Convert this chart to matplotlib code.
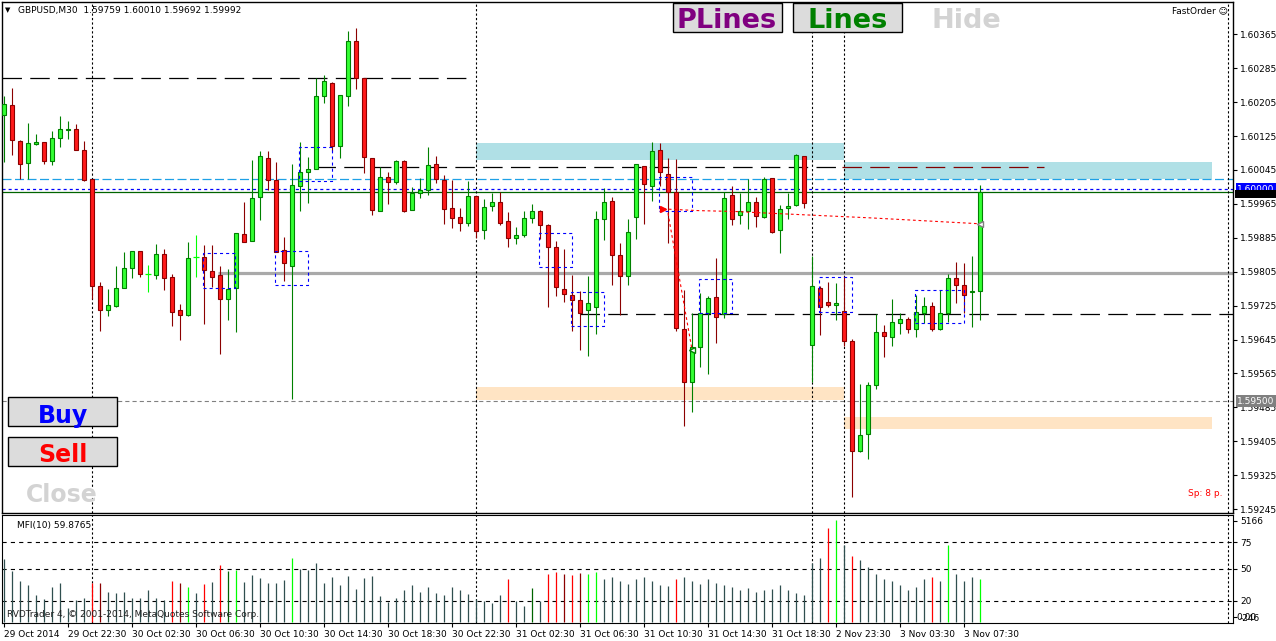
import matplotlib
matplotlib.use('Agg')
import matplotlib.pyplot as plt
from matplotlib.patches import Rectangle

plt.rcParams['font.family'] = 'DejaVu Sans'
plt.rcParams['lines.scale_dashes'] = False

# ---------------- data (GBPUSD M30) ----------------
opens = [1.60174, 1.60198, 1.60113, 1.60061, 1.60107, 1.60111, 1.60065, 1.60120, 1.60140, 1.60141,
         1.60092, 1.60023, 1.59771, 1.59714, 1.59725, 1.59766, 1.59813, 1.59853, 1.59799, 1.59797,
         1.59846, 1.59792, 1.59714, 1.59703, 1.59840, 1.59839, 1.59806, 1.59797, 1.59740, 1.59766,
         1.59894, 1.59877, 1.59981, 1.60073, 1.60021, 1.59856, 1.59818, 1.60007, 1.60040, 1.60047,
         1.60219, 1.60250, 1.60101, 1.60219, 1.60349, 1.60261, 1.60073, 1.59948, 1.60028, 1.60016,
         1.60066, 1.59950, 1.59990, 1.59997, 1.60059, 1.60021, 1.59955, 1.59934, 1.59920, 1.59983,
         1.59903, 1.59960, 1.59969, 1.59924, 1.59884, 1.59891, 1.59931, 1.59948, 1.59915, 1.59863,
         1.59764, 1.59750, 1.59738, 1.59714, 1.59722, 1.59929, 1.59971, 1.59844, 1.59795, 1.59934,
         1.60054, 1.60007, 1.60092, 1.60035, 1.59993, 1.59670, 1.59545, 1.59627, 1.59707, 1.59745,
         1.59705, 1.59986, 1.59938, 1.59948, 1.59969, 1.59934, 1.60026, 1.59903, 1.59955, 1.59962,
         1.60078, 1.59632, 1.59766, 1.59733, 1.59726, 1.59712, 1.59641, 1.59382, 1.59422, 1.59538,
         1.59663, 1.59651, 1.59684, 1.59693, 1.59670, 1.59707, 1.59724, 1.59670, 1.59707, 1.59790,
         1.59773, 1.59757, 1.59759]
highs = [1.60220, 1.60238, 1.60116, 1.60155, 1.60129, 1.60112, 1.60137, 1.60172, 1.60161, 1.60153,
         1.60114, 1.60023, 1.59780, 1.59765, 1.59819, 1.59851, 1.59853, 1.59853, 1.59820, 1.59870,
         1.59858, 1.59799, 1.59729, 1.59875, 1.59891, 1.59868, 1.59868, 1.59818, 1.59811, 1.59896,
         1.59970, 1.60069, 1.60090, 1.60090, 1.60063, 1.59887, 1.60059, 1.60111, 1.60076, 1.60261,
         1.60269, 1.60252, 1.60221, 1.60373, 1.60380, 1.60261, 1.60073, 1.60052, 1.60040, 1.60068,
         1.60068, 1.60004, 1.60026, 1.60100, 1.60078, 1.60033, 1.60021, 1.59955, 1.60019, 1.59983,
         1.59976, 1.59990, 1.59993, 1.59946, 1.59910, 1.59948, 1.59964, 1.59950, 1.59917, 1.59877,
         1.59858, 1.59797, 1.59759, 1.59795, 1.59948, 1.60002, 1.59981, 1.59872, 1.59929, 1.60059,
         1.60054, 1.60111, 1.60108, 1.60073, 1.60071, 1.59762, 1.59707, 1.59755, 1.59747, 1.59837,
         1.59993, 1.60007, 1.59990, 1.60023, 1.59981, 1.60028, 1.60026, 1.59962, 1.59990, 1.60082,
         1.60078, 1.59842, 1.59771, 1.59780, 1.59778, 1.59795, 1.59646, 1.59540, 1.59545, 1.59705,
         1.59679, 1.59740, 1.59707, 1.59698, 1.59750, 1.59745, 1.59733, 1.59762, 1.59799, 1.59828,
         1.59825, 1.59842, 1.60010]
lows = [1.60063, 1.60081, 1.60024, 1.60024, 1.60103, 1.60059, 1.60057, 1.60098, 1.60118, 1.60091,
        1.60020, 1.59740, 1.59664, 1.59700, 1.59721, 1.59766, 1.59789, 1.59792, 1.59758, 1.59787,
        1.59763, 1.59676, 1.59645, 1.59700, 1.59792, 1.59681, 1.59769, 1.59611, 1.59690, 1.59662,
        1.59875, 1.59877, 1.59926, 1.59997, 1.59851, 1.59784, 1.59506, 1.59947, 1.59968, 1.60047,
        1.60202, 1.60089, 1.60072, 1.60195, 1.60236, 1.60037, 1.59938, 1.59948, 1.59964, 1.60011,
        1.59945, 1.59950, 1.59979, 1.59985, 1.60014, 1.59917, 1.59909, 1.59900, 1.59913, 1.59884,
        1.59882, 1.59948, 1.59915, 1.59863, 1.59870, 1.59887, 1.59920, 1.59882, 1.59722, 1.59747,
        1.59733, 1.59665, 1.59620, 1.59606, 1.59658, 1.59880, 1.59773, 1.59703, 1.59773, 1.59882,
        1.59917, 1.59971, 1.60006, 1.59872, 1.59665, 1.59441, 1.59474, 1.59580, 1.59564, 1.59637,
        1.59696, 1.59915, 1.59917, 1.59905, 1.59910, 1.59931, 1.59896, 1.59849, 1.59929, 1.59960,
        1.59955, 1.59545, 1.59655, 1.59722, 1.59691, 1.59630, 1.59273, 1.59380, 1.59363, 1.59528,
        1.59604, 1.59630, 1.59658, 1.59660, 1.59651, 1.59684, 1.59665, 1.59667, 1.59686, 1.59731,
        1.59707, 1.59674, 1.59692]
closes = [1.60200, 1.60115, 1.60058, 1.60108, 1.60111, 1.60065, 1.60120, 1.60141, 1.60142, 1.60092,
          1.60021, 1.59771, 1.59714, 1.59726, 1.59766, 1.59813, 1.59853, 1.59799, 1.59799, 1.59846,
          1.59791, 1.59710, 1.59703, 1.59837, 1.59840, 1.59809, 1.59792, 1.59740, 1.59764, 1.59896,
          1.59875, 1.59979, 1.60078, 1.60021, 1.59851, 1.59825, 1.60009, 1.60040, 1.60047, 1.60219,
          1.60254, 1.60101, 1.60221, 1.60349, 1.60261, 1.60075, 1.59950, 1.60028, 1.60016, 1.60066,
          1.59948, 1.59990, 1.59997, 1.60056, 1.60023, 1.59953, 1.59931, 1.59920, 1.59983, 1.59901,
          1.59957, 1.59969, 1.59920, 1.59884, 1.59891, 1.59931, 1.59948, 1.59915, 1.59863, 1.59769,
          1.59752, 1.59738, 1.59707, 1.59731, 1.59929, 1.59969, 1.59844, 1.59795, 1.59898, 1.60059,
          1.60012, 1.60089, 1.60040, 1.59993, 1.59672, 1.59545, 1.59627, 1.59707, 1.59743, 1.59698,
          1.59979, 1.59929, 1.59948, 1.59969, 1.59936, 1.60023, 1.59898, 1.59953, 1.59960, 1.60080,
          1.59967, 1.59771, 1.59722, 1.59726, 1.59731, 1.59641, 1.59382, 1.59420, 1.59538, 1.59663,
          1.59653, 1.59686, 1.59693, 1.59670, 1.59710, 1.59724, 1.59670, 1.59707, 1.59790, 1.59773,
          1.59750, 1.59759, 1.59992]

mfi = [59.1, 47.8, 38.4, 34.7, 25.3, 21.6, 32.8, 36.6, 13.1, 20.6,
       22.5, 36.6, 36.6, 28.1, 27.2, 28.1, 22.5, 22.5, 30.0, 22.5,
       20.6, 38.4, 36.6, 32.8, 27.2, 35.6, 37.5, 53.4, 47.8, 48.8,
       37.5, 44.1, 41.3, 36.6, 36.6, 39.4, 60.0, 49.7, 48.8, 55.3,
       36.6, 42.2, 34.7, 43.1, 30.9, 41.3, 43.1, 24.4, 18.8, 22.5,
       30.0, 35.0, 28.0, 33.0, 27.0, 25.0, 33.0, 30.0, 26.0, 22.0,
       20.0, 18.0, 25.0, 40.0, 20.0, 15.0, 32.0, 20.0, 45.0, 47.0,
       45.0, 44.0, 46.0, 45.0, 47.0, 40.0, 42.0, 38.0, 36.0, 40.0,
       42.0, 38.0, 35.0, 34.0, 40.0, 42.0, 38.0, 36.0, 40.0, 37.0,
       35.0, 33.0, 30.0, 32.0, 28.0, 30.0, 31.0, 35.0, 30.0, 27.0,
       25.0, 55.0, 60.0, 88.0, 96.0, 72.0, 62.0, 58.0, 52.0, 45.0,
       40.0, 38.0, 35.0, 30.0, 33.0, 40.0, 42.0, 38.0, 72.0, 45.0,
       38.0, 42.0, 40.0]
mfi_red = [11, 21, 25, 27, 63, 68, 69, 71, 84, 103, 106, 116]
mfi_darkred = [12, 22, 70, 72]
mfi_lime = [23, 29, 36, 73, 74, 104, 118, 122]
mfi_darkgreen = [28, 66]
mfi_levels = [75, 50, 20]

time_labels = ['29 Oct 2014', '29 Oct 22:30', '30 Oct 02:30', '30 Oct 06:30', '30 Oct 10:30',
               '30 Oct 14:30', '30 Oct 18:30', '30 Oct 22:30', '31 Oct 02:30', '31 Oct 06:30',
               '31 Oct 10:30', '31 Oct 14:30', '31 Oct 18:30', '2 Nov 23:30', '3 Nov 03:30',
               '3 Nov 07:30']
price_ticks = [1.60365, 1.60285, 1.60205, 1.60125, 1.60045, 1.59965, 1.59885, 1.59805,
               1.59725, 1.59645, 1.59565, 1.59485, 1.59405, 1.59325, 1.59245]
day_starts = [11, 59, 101, 105, 153]

# drawn objects: (first bar, last bar, price top, price bottom)
zones_blue = [(59, 105, 1.60109, 1.60069), (105, 151, 1.60064, 1.60024)]
zones_peach = [(59, 105, 1.59533, 1.59503), (105, 151, 1.59462, 1.59433)]
boxes = [(24.9, 28.9, 1.59849, 1.59767), (33.9, 38.0, 1.59854, 1.59774),
         (36.9, 41.0, 1.60099, 1.60019), (66.9, 71.0, 1.59896, 1.59816),
         (70.9, 75.0, 1.59757, 1.59677), (81.9, 86.0, 1.60029, 1.59949),
         (86.9, 91.0, 1.59788, 1.59708), (101.9, 106.0, 1.59792, 1.59710),
         (113.9, 120.0, 1.59762, 1.59684)]
trade_a_x = [82.4, 86.9, 91.4, 94.5, 108.25, 122]
trade_a_y = [1.59953, 1.59949, 1.59947, 1.59944, 1.59932, 1.59918]
trade_b_x = [83, 86]
trade_b_y = [1.59943, 1.59621]

# ---------------- figure ----------------
W, H = 1276, 641
fig = plt.figure(figsize=(W / 100, H / 100), dpi=100)
fig.patch.set_facecolor('white')


def fx(x):
    return x / W


def fy(y):
    return 1 - y / H


ax = fig.add_axes([fx(2), fy(513), fx(1233) - fx(2), fy(2) - fy(513)])
sub = fig.add_axes([fx(2), fy(623), fx(1233) - fx(2), fy(515) - fy(623)])
n = len(opens)
xs = list(range(n))
xmin, xmax = -0.25, 153.625

# candles
up = [c > o for o, c in zip(opens, closes)]
doji = [o == c for o, c in zip(opens, closes)]
wick_col = ['#00FF00' if d else ('#008000' if u else '#8B0000') for u, d in zip(up, doji)]
ax.vlines(xs, lows, highs, colors=wick_col, lw=0.8, zorder=3)
bx = [i for i in xs if not doji[i]]
ax.bar(bx, [abs(closes[i] - opens[i]) for i in bx], bottom=[min(opens[i], closes[i]) for i in bx],
       width=0.55, color=['#33FF33' if up[i] else '#FF1A1A' for i in bx],
       edgecolor=['#008000' if up[i] else '#8B0000' for i in bx], lw=0.8, zorder=4)
for i in xs:
    if doji[i]:
        ax.hlines(opens[i], i - 0.35, i + 0.35, color='#00FF00', lw=0.9, zorder=4)

# zones
for x0, x1, top, bot in zones_blue:
    ax.add_patch(Rectangle((x0, bot), x1 - x0, top - bot, fc='#B0E0E6', ec='none', zorder=0))
for x0, x1, top, bot in zones_peach:
    ax.add_patch(Rectangle((x0, bot), x1 - x0, top - bot, fc='#FFE4C4', ec='none', zorder=0))

# level lines
dash = (0, (14, 6))
ax.hlines(1.60261, xmin, 58, color='black', ls=dash, lw=0.9, zorder=1)
ax.hlines(1.60051, 39, 104.75, color='black', ls=dash, lw=0.9, zorder=1)
ax.hlines(1.60051, 104.75, 130, color='#800000', ls=dash, lw=0.9, zorder=1)
ax.axhline(1.60023, color='#1EA0E6', ls=(0, (6.5, 2.5)), lw=0.9, zorder=1)
ax.axhline(1.60000, color='#0000FF', ls=(0, (2.2, 2.2)), lw=0.9, zorder=1)
ax.axhline(1.59992, color='#006400', lw=0.9, zorder=1)
ax.hlines(1.59801, 26.75, xmax, color='#A9A9A9', lw=2.3, zorder=1)
ax.hlines(1.59705, 72, xmax, color='black', ls=dash, lw=0.9, zorder=1)
ax.axhline(1.59500, color='#808080', ls=(0, (3, 2.2)), lw=0.8, zorder=1)

for x0, x1, top, bot in boxes:
    ax.add_patch(Rectangle((x0, bot), x1 - x0, top - bot, fill=False, ec='#0000FF',
                           ls=(0, (2.2, 2.2)), lw=0.8, zorder=5))

ax.plot(trade_a_x, trade_a_y, color='red', ls=(0, (2, 2)), lw=0.8, zorder=5)
ax.plot(trade_b_x, trade_b_y, color='red', ls=(0, (2, 2)), lw=0.8, zorder=5)
ax.plot(trade_a_x[0], trade_a_y[0], marker='>', color='red', ms=5, zorder=6)
ax.plot(trade_b_x[-1], trade_b_y[-1], marker='<', mfc='white', mec='#008000', ms=5, zorder=6)
ax.plot(trade_a_x[-1], trade_a_y[-1], marker='<', mfc='white', mec='#808080', ms=5, zorder=6)

for d in day_starts:
    ax.axvline(d, color='black', ls=(0, (1.6, 1.6)), lw=0.8, zorder=2)
    sub.axvline(d, color='black', ls=(0, (1.6, 1.6)), lw=0.8, zorder=2)

ax.set_xlim(xmin, xmax)
ax.set_ylim(1.59236, 1.60441)
ax.set_xticks([])
ax.yaxis.tick_right()
ax.set_yticks(price_ticks)
ax.set_yticklabels(['%.5f' % p for p in price_ticks])
ax.tick_params(axis='y', direction='out', length=3, width=0.8, labelsize=6.5, pad=2)
for s in ax.spines.values():
    s.set_linewidth(1.0)

# price labels on axis (bid label mostly hidden under the 1.60000 label)
fig.add_artist(Rectangle((fx(1235), fy(198)), fx(1276) - fx(1235), fy(190) - fy(198),
                         transform=fig.transFigure, fc='black', ec='none', zorder=9))
lab = dict(transform=ax.get_yaxis_transform(), ha='left', va='center', fontsize=6.5,
           color='white', clip_on=False, zorder=10)
ax.text(1.0035, 1.60000, '1.60000', bbox=dict(boxstyle='square,pad=0.2', fc='#0000FF', ec='none'), **lab)
ax.text(1.0035, 1.59500, '1.59500', bbox=dict(boxstyle='square,pad=0.2', fc='#808080', ec='none'), **lab)

# ---------------- MFI sub window ----------------
cols = []
for i in xs:
    if i in mfi_red:
        cols.append('#FF0000')
    elif i in mfi_darkred:
        cols.append('#8B0000')
    elif i in mfi_lime:
        cols.append('#00FF00')
    elif i in mfi_darkgreen:
        cols.append('#006400')
    else:
        cols.append('#2F4F4F')
sub.vlines(xs, 0, mfi, colors=cols, lw=0.9, zorder=3)
for lv in mfi_levels:
    sub.axhline(lv, color='black', ls=(0, (3, 3)), lw=0.8, zorder=2)
sub.set_xlim(xmin, xmax)
sub.set_ylim(-0.9, 100.3)
sub.yaxis.tick_right()
sub.set_yticks([94.7] + mfi_levels + [4.5])
sub.set_yticklabels(['5166', '75', '50', '20', '-246'])
sub.tick_params(axis='y', direction='out', length=3, width=0.8, labelsize=6.5, pad=2)
sub.set_xticks(list(range(0, 8 * len(time_labels), 8)))
sub.set_xticklabels(time_labels)
for t in sub.get_xticklabels():
    t.set_horizontalalignment('left')
sub.tick_params(axis='x', direction='out', length=3, width=0.8, labelsize=6.5, pad=2)
fig.text(fx(1236), fy(617), '0.00', fontsize=6.5, va='center', color='black')

sub.text(0.012, 0.9, 'MFI(10) %.4f' % 59.8765, transform=sub.transAxes, fontsize=6.5, va='center')
sub.text(0.004, 0.08, 'RVDTrader 4, \u00a9 2001-2014, MetaQuotes Software Corp.',
         transform=sub.transAxes, fontsize=6.5, va='center', color='#202020', zorder=5)

# ---------------- header and panel buttons ----------------
fig.text(fx(5), fy(10), '\u25bc', fontsize=5, va='center')
fig.text(fx(18), fy(10), 'GBPUSD,M30  %.5f %.5f %.5f %.5f' % (opens[-1], highs[-1], lows[-1], closes[-1]),
         fontsize=6.5, va='center')
fig.text(fx(1228), fy(11), 'FastOrder \u263a', fontsize=6.5, va='center', ha='right')
fig.text(fx(1222), fy(494), 'Sp: 8 p.', fontsize=6.5, va='center', ha='right', color='red')


def button(x0, y0, x1, y1):
    fig.add_artist(Rectangle((fx(x0), fy(y1)), fx(x1) - fx(x0), fy(y0) - fy(y1),
                             transform=fig.transFigure, fc='#DCDCDC', ec='black', lw=1.0, zorder=20))


button(673, 3, 782, 32)
button(793, 3, 902, 32)
button(8, 397, 117, 426)
button(8, 437, 117, 466)
big = dict(fontweight='bold', ha='center', va='baseline', zorder=21)
fig.text(fx(727), fy(28.5), 'PLines', fontsize=19.5, color='#800080', **big)
fig.text(fx(847.5), fy(28.5), 'Lines', fontsize=19.5, color='#008000', **big)
fig.text(fx(966.5), fy(28.5), 'Hide', fontsize=19.5, color='#D3D3D3', **big)
fig.text(fx(63), fy(423), 'Buy', fontsize=17, color='#0000FF', **big)
fig.text(fx(63), fy(462), 'Sell', fontsize=17, color='#FF0000', **big)
fig.text(fx(61.5), fy(501.5), 'Close', fontsize=17, color='#D3D3D3', **big)

fig.savefig('out.png', dpi=100)
